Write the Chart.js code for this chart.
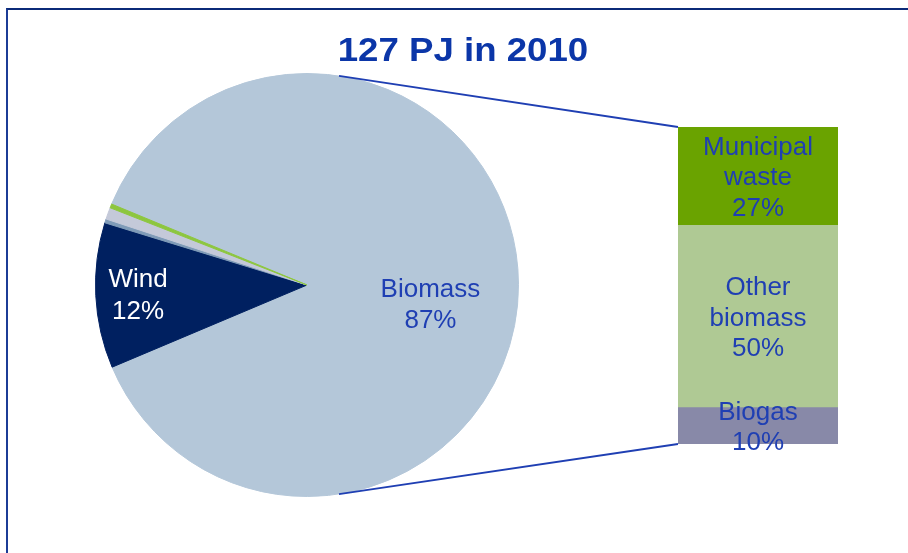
<!DOCTYPE html>
<html>
<head>
<meta charset="utf-8">
<script src="https://cdn.jsdelivr.net/npm/chart.js@4.4.1/dist/chart.umd.min.js"></script>
<style>
  html, body { margin: 0; padding: 0; background: #ffffff; }
  body { width: 908px; height: 553px; position: relative; overflow: hidden; font-family: "Liberation Sans", Arial, sans-serif; }
  #frame { position: absolute; left: 6px; top: 8px; width: 910px; height: 560px;
           border-top: 2px solid #0b2a78; border-left: 2px solid #1c3c96; }
  #title { position: absolute; left: 263px; width: 400px; top: 30px; line-height: 40px;
           text-align: center; font-weight: bold; font-size: 33px; color: #0b36a8;
           transform: scaleX(1.11); transform-origin: 200px 50%; }
  #pieWrap { position: absolute; left: 95px; top: 73px; width: 424px; height: 424px; }
  #barWrap { position: absolute; left: 0; top: 0; width: 908px; height: 553px; }
</style>
</head>
<body>
<div id="frame"></div>
<div id="pieWrap"><canvas id="pie"></canvas></div>
<div id="barWrap"><canvas id="bar"></canvas></div>
<div id="title">127 PJ in 2010</div>
<script>
// ---- data ----
const pieCategories = ['Biomass', 'Wind', 'Hydro', 'Heat pumps', 'Solar'];
const pieValues     = [87.4, 11.1, 0.3, 0.9, 0.3];
const pieShownPct   = ['87%', '12%', '', '', ''];

const barCategories = ['Biogas', 'Other biomass', 'Municipal waste'];
const barValues     = [10, 50, 27];
const barLabelLines = [['Biogas'], ['Other', 'biomass'], ['Municipal', 'waste']];

// ---- styles ----
const pieColors = ['#b4c7d9', '#002060', '#7f9bb8', '#c4c9d9', '#8dc63f'];
const barColors = ['#8889a8', '#afc994', '#6aa300'];
const labelBlue = '#1f3fb3';
const FONT = '"Liberation Sans", Arial, sans-serif';
const LABEL_SIZE = 26;

const pieLabelPos = [ {frac: 0.59, angle: 8.4, color: labelBlue}, {frac: 0.80, angle: 177, color: '#ffffff'} ];

const pieLabelPlugin = {
  id: 'pieLabels',
  afterDatasetsDraw(chart) {
    const ctx = chart.ctx;
    const arcs = chart.getDatasetMeta(0).data;
    ctx.save();
    ctx.font = LABEL_SIZE + 'px ' + FONT;
    ctx.textAlign = 'center';
    ctx.textBaseline = 'alphabetic';
    const lh = 31.5, cap = 0.716 * LABEL_SIZE;
    pieLabelPos.forEach((p, i) => {
      const a = arcs[i];
      const ang = p.angle * Math.PI / 180;
      const r = a.outerRadius * p.frac;
      const cx = a.x + Math.cos(ang) * r;
      const cy = a.y + Math.sin(ang) * r;
      const lines = [pieCategories[i], pieShownPct[i]];
      ctx.fillStyle = p.color;
      lines.forEach((t, k) => {
        ctx.fillText(t, cx, cy + (k - (lines.length - 1) / 2) * lh + cap / 2);
      });
    });
    ctx.restore();
  }
};

const pieChart = new Chart(document.getElementById('pie'), {
  type: 'pie',
  data: {
    labels: pieCategories,
    datasets: [{ data: pieValues, backgroundColor: pieColors, borderColor: pieColors, borderWidth: 1 }]
  },
  options: {
    responsive: true, maintainAspectRatio: false, animation: false,
    rotation: 292.5,
    layout: { padding: 0 },
    plugins: { legend: { display: false }, tooltip: { enabled: false } }
  },
  plugins: [pieLabelPlugin]
});

const barLabelPlugin = {
  id: 'barLabels',
  afterDatasetsDraw(chart) {
    const ctx = chart.ctx;
    ctx.save();
    // connector lines from pie to bar
    const pieCanvas = document.getElementById('pie').getBoundingClientRect();
    const barCanvas = document.getElementById('bar').getBoundingClientRect();
    const ox = pieCanvas.left - barCanvas.left, oy = pieCanvas.top - barCanvas.top;
    const arc = pieChart.getDatasetMeta(0).data[0];
    const px = arc.x + ox, py = arc.y + oy, R = arc.outerRadius;
    const connAng = 81.3 * Math.PI / 180;
    const topEl = chart.getDatasetMeta(barValues.length - 1).data[0];
    const botEl = chart.getDatasetMeta(0).data[0];
    const left = topEl.x - topEl.width / 2;
    ctx.strokeStyle = labelBlue;
    ctx.lineWidth = 1.8;
    ctx.beginPath();
    ctx.moveTo(px + Math.cos(-connAng) * R, py + Math.sin(-connAng) * R);
    ctx.lineTo(left, topEl.y);
    ctx.moveTo(px + Math.cos(connAng) * R, py + Math.sin(connAng) * R);
    ctx.lineTo(left, botEl.base);
    ctx.stroke();
    // labels
    ctx.font = LABEL_SIZE + 'px ' + FONT;
    ctx.textAlign = 'center';
    ctx.textBaseline = 'alphabetic';
    ctx.fillStyle = labelBlue;
    const lh = 30.7, cap = 0.716 * LABEL_SIZE;
    barValues.forEach((v, i) => {
      const el = chart.getDatasetMeta(i).data[0];
      const cx = el.x;
      const cy = (el.y + el.base) / 2;
      const lines = barLabelLines[i].concat([v + '%']);
      lines.forEach((t, k) => {
        ctx.fillText(t, cx, cy + (k - (lines.length - 1) / 2) * lh + cap / 2);
      });
    });
    ctx.restore();
  }
};

const barTotal = barValues.reduce((a, b) => a + b, 0);
new Chart(document.getElementById('bar'), {
  type: 'bar',
  data: {
    labels: ['Biomass'],
    datasets: barCategories.map((c, i) => ({
      label: c, data: [barValues[i]], backgroundColor: barColors[i],
      borderWidth: 0, barPercentage: 1, categoryPercentage: 1
    }))
  },
  options: {
    responsive: true, maintainAspectRatio: false, animation: false,
    layout: { padding: { left: 678, right: 70, top: 127, bottom: 109 } },
    scales: {
      x: { stacked: true, display: false },
      y: { stacked: true, display: false, min: 0, max: barTotal }
    },
    plugins: { legend: { display: false }, tooltip: { enabled: false } }
  },
  plugins: [barLabelPlugin]
});
</script>
</body>
</html>
